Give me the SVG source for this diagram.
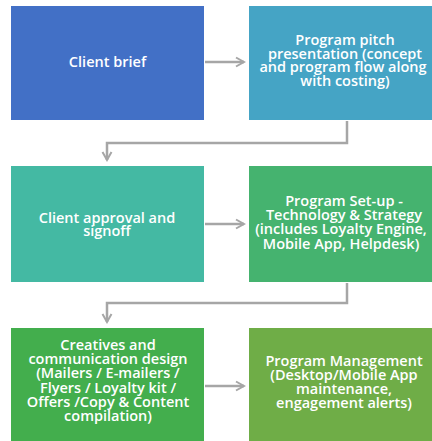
<svg xmlns="http://www.w3.org/2000/svg" width="432" height="441" viewBox="0 0 432 441">
<defs>
<marker id="ah" markerWidth="12" markerHeight="12" refX="10" refY="6" orient="auto" markerUnits="userSpaceOnUse">
<path d="M2,1.5 L10,6 L2,10.5" fill="none" stroke="#a6a6a6" stroke-width="2"/>
</marker>
<style>
.t{font-family:"Open Sans","Noto Sans","Liberation Sans",sans-serif;font-weight:600;font-size:14.5px;fill:#fff;text-anchor:middle}
.c{fill:none;stroke:#a6a6a6;stroke-width:2.5}
</style>
</defs>
<rect width="432" height="441" fill="#fff"/>
<g id="connectors">
<path class="c" d="M205,62 H244" marker-end="url(#ah)"/>
<path class="c" d="M347,121 V143 H107 V160" marker-end="url(#ah)"/>
<path class="c" d="M205,224 H244" marker-end="url(#ah)"/>
<path class="c" d="M347,283 V303 H107 V322" marker-end="url(#ah)"/>
<path class="c" d="M205,386 H244" marker-end="url(#ah)"/>
</g>
<g id="client-brief">
<rect x="11" y="6" width="193" height="114" fill="#4270c6"/>
<text class="t" x="107.5" y="67">Client brief</text>
</g>
<g id="program-pitch">
<rect x="249" y="6" width="193" height="114" fill="#45a4c5"/>
<text class="t" x="345" y="45">Program pitch</text>
<text class="t" x="345" y="58.5">presentation (concept</text>
<text class="t" x="343" y="72">and program flow along</text>
<text class="t" x="345" y="85.5">with costing)</text>
</g>
<g id="client-approval">
<rect x="11" y="166" width="193" height="116" fill="#44b9a3"/>
<text class="t" x="107" y="222.5">Client approval and</text>
<text class="t" x="107" y="236">signoff</text>
</g>
<g id="program-setup">
<rect x="249" y="166" width="193" height="116" fill="#45b36f"/>
<text class="t" x="344" y="205.5">Program Set-up -</text>
<text class="t" x="344" y="220">Technology &amp; Strategy</text>
<text class="t" x="341" y="234">(includes Loyalty Engine,</text>
<text class="t" x="341" y="248.5">Mobile App, Helpdesk)</text>
</g>
<g id="creatives">
<rect x="11" y="328" width="193" height="113" fill="#43ae4d"/>
<text class="t" x="108" y="350">Creatives and</text>
<text class="t" x="108" y="364.2">communication design</text>
<text class="t" x="108" y="378.4">(Mailers / E-mailers /</text>
<text class="t" x="108" y="392.6">Flyers / Loyalty kit /</text>
<text class="t" x="108" y="406.8">Offers /Copy &amp; Content</text>
<text class="t" x="108" y="421">compilation)</text>
</g>
<g id="program-management">
<rect x="249" y="328" width="193" height="113" fill="#6fad47"/>
<text class="t" x="344" y="366">Program Management</text>
<text class="t" x="344" y="380">(Desktop/Mobile App</text>
<text class="t" x="344" y="394">maintenance,</text>
<text class="t" x="344" y="408">engagement alerts)</text>
</g>
</svg>
